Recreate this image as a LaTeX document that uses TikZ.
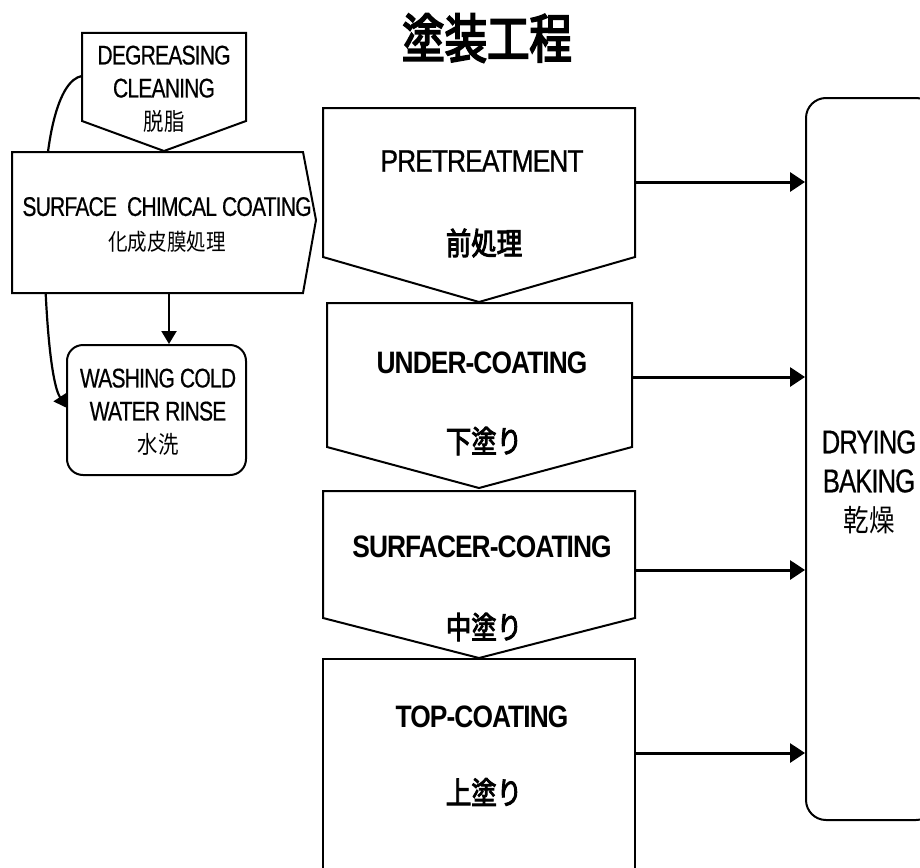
\documentclass[tikz,border=0pt]{standalone}
\usepackage{fontspec}
\setmainfont{Liberation Sans}
\newfontfamily\mainlat[FakeStretch=0.85,LetterSpace=-3]{Liberation Sans}
\newfontfamily\mainreg[FakeStretch=0.85,LetterSpace=-3,FakeBold=0.8]{Liberation Sans}
\newfontfamily\sidelat[FakeStretch=0.78,LetterSpace=-3,FakeBold=0.5]{Liberation Sans}
\newfontfamily\jp[FakeStretch=0.85]{Noto Sans CJK JP}
\newfontfamily\jpbold[FakeStretch=0.82,FakeBold=3]{Noto Sans CJK JP}
\newfontfamily\jptitle[FakeStretch=0.8,FakeBold=3.5]{Noto Sans CJK JP}
\usetikzlibrary{arrows.meta}
\tikzset{
  shapebox/.style={draw, line width=2pt, fill=white, line join=miter},
  flow/.style={line width=3pt, -{Triangle[length=15pt,width=19pt]}},
  sideflow/.style={line width=2.2pt, -{Triangle[length=13pt,width=15pt]}},
  label/.style={inner sep=0pt, align=center},
}
\begin{document}
\begin{tikzpicture}[x=1pt,y=-1pt]
\useasboundingbox (0,0) rectangle (920,867);
\clip (0,0) rectangle (920,867);

% title
\node[label, font=\jptitle\fontsize{53}{53}\selectfont] (title) at (487,38) {塗装工程};

% drying / baking oven (runs past the right edge)
\node[draw, line width=2pt, rounded corners=20pt, minimum width=130pt,
      minimum height=722pt, inner sep=0pt] (dry) at (871,459) {};

% coating sequence: arrows into the oven first, boxes on top
\coordinate (preR) at (635,182);
\coordinate (undR) at (632,377);
\coordinate (surR) at (635,570);
\coordinate (topR) at (635,753);
\draw[flow] (preR) -- (dry.west |- preR);
\draw[flow] (undR) -- (dry.west |- undR);
\draw[flow] (surR) -- (dry.west |- surR);
\draw[flow] (topR) -- (dry.west |- topR);

\draw[shapebox] (323,659) -- (635,659) -- (635,880) -- (323,880) -- cycle;
\draw[shapebox] (323,491) -- (635,491) -- (635,618) -- (479,658) -- (323,618) -- cycle;
\draw[shapebox] (327,303) -- (632,303) -- (632,447) -- (479,488) -- (327,447) -- cycle;
\draw[shapebox] (323,108) -- (635,108) -- (635,257) -- (479,302) -- (323,257) -- cycle;

\node[label, font=\mainreg\fontsize{31}{31}\selectfont] (preE) at (482,161) {PRETREATMENT};
\node[label, font=\jpbold\fontsize{31}{31}\selectfont] (preJ) at (484,243) {前処理};
\node[label, font=\mainlat\bfseries\fontsize{31}{31}\selectfont] (undE) at (482,363) {UNDER-COATING};
\node[label, font=\jpbold\fontsize{31}{31}\selectfont] (undJ) at (484,441) {下塗り};
\node[label, font=\mainlat\bfseries\fontsize{31}{31}\selectfont] (surE) at (482,547) {SURFACER-COATING};
\node[label, font=\jpbold\fontsize{31}{31}\selectfont] (surJ) at (484,627) {中塗り};
\node[label, font=\mainlat\bfseries\fontsize{31}{31}\selectfont] (topE) at (482,717) {TOP-COATING};
\node[label, font=\jpbold\fontsize{31}{31}\selectfont] (topJ) at (484,792) {上塗り};

\node[label, font=\sidelat\fontsize{33}{39}\selectfont] (dryT) at (869,482)
  {DRYING\\BAKING\\{\jp\fontsize{30}{39}\selectfont 乾燥}};

% pretreatment detail
\coordinate (degL) at (82,76);
\coordinate (washL) at (67,408);
\draw[sideflow] (degL) .. controls (58,80) and (44,140) .. (44,220)
  .. controls (44,300) and (50,382) .. (washL);

\draw[shapebox] (82,33) -- (246,33) -- (246,121) -- (164,151) -- (82,121) -- cycle;
\draw[shapebox] (12,152) -- (303,152) -- (316,220) -- (303,293) -- (12,293) -- cycle;
\node[shapebox, rounded corners=16pt, minimum width=179pt, minimum height=130pt,
      inner sep=0pt] (wash) at (156.5,410) {};
\coordinate (surfB) at (169,293);
\draw[sideflow] (surfB) -- (surfB |- wash.north);

\node[label, font=\sidelat\fontsize{27}{33}\selectfont] (degT) at (164,89)
  {DEGREASING\\CLEANING\\{\jp\fontsize{24}{33}\selectfont 脱脂}};
\node[label, font=\sidelat\fontsize{27}{35}\selectfont] (surfT) at (167,225)
  {SURFACE\ \ CHIMCAL COATING\\{\jp\fontsize{23}{35}\selectfont 化成皮膜処理}};
\node[label, font=\sidelat\fontsize{27}{33}\selectfont] (washT) at (158,412)
  {WASHING COLD\\WATER RINSE\\{\jp\fontsize{24}{33}\selectfont 水洗}};
\end{tikzpicture}
\end{document}
